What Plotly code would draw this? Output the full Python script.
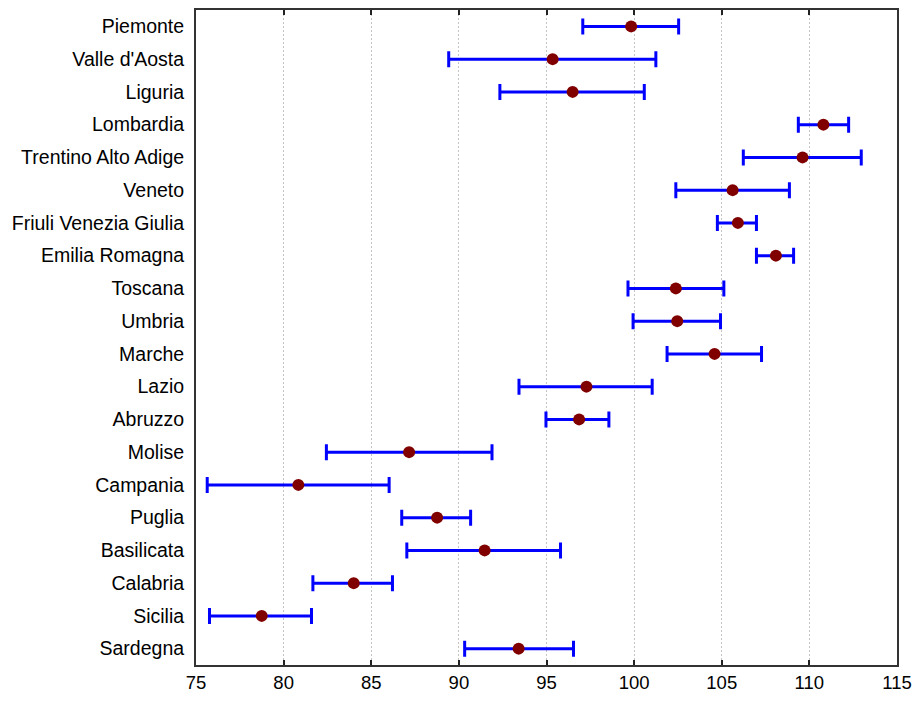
import plotly.graph_objects as go

regions = ["Piemonte", "Valle d'Aosta", "Liguria", "Lombardia", "Trentino Alto Adige",
           "Veneto", "Friuli Venezia Giulia", "Emilia Romagna", "Toscana", "Umbria",
           "Marche", "Lazio", "Abruzzo", "Molise", "Campania", "Puglia", "Basilicata",
           "Calabria", "Sicilia", "Sardegna"]
lower = [97.07, 89.42, 92.34, 109.37, 106.23, 102.38, 104.75, 106.98, 99.65, 99.94,
         101.88, 93.43, 94.97, 82.44, 75.64, 86.74, 87.03, 81.67, 75.77, 90.33]
mean = [99.83, 95.35, 96.49, 110.80, 109.61, 105.62, 105.92, 108.09, 102.38, 102.46,
        104.59, 97.28, 96.86, 87.16, 80.84, 88.76, 91.47, 84.00, 78.75, 93.41]
upper = [102.54, 101.24, 100.58, 112.24, 112.96, 108.86, 106.98, 109.10, 105.12, 104.93,
         107.27, 101.03, 98.56, 91.89, 86.02, 90.67, 95.80, 86.21, 81.59, 96.54]
x_ticks = [75, 80, 85, 90, 95, 100, 105, 110, 115]

plus = [u - m for u, m in zip(upper, mean)]
minus = [m - l for m, l in zip(mean, lower)]

fig = go.Figure()
fig.add_trace(go.Scatter(
    x=mean, y=regions, mode="markers",
    marker=dict(color="#800000", size=12),
    error_x=dict(type="data", symmetric=False, array=plus, arrayminus=minus,
                 color="#0000FF", thickness=3, width=8),
    showlegend=False,
))

yfont = dict(family="Liberation Sans, Arial, sans-serif", size=19.5, color="black")
xfont = dict(family="Liberation Sans, Arial, sans-serif", size=18.5, color="black")
fig.update_layout(
    width=913, height=693,
    margin=dict(l=188, r=24, t=0, b=36),
    plot_bgcolor="white", paper_bgcolor="white",
    font=yfont,
    xaxis=dict(range=[75, 115], tickvals=x_ticks, ticktext=[str(v) for v in x_ticks],
               showgrid=True, gridcolor="#c4c4c4", griddash="2px,2px", gridwidth=1,
               showline=True, linecolor="#333", linewidth=2, mirror="ticks",
               ticks="inside", ticklen=5, tickcolor="#222", tickwidth=2,
               zeroline=False, tickfont=xfont),
    yaxis=dict(type="category", categoryorder="array", categoryarray=regions,
               range=[19.5, -0.5], autorange=False,
               showgrid=False, showline=True, linecolor="#333", linewidth=2, mirror=True,
               ticks="", ticklabelstandoff=6, tickfont=yfont, zeroline=False),
)
fig.write_html("out.html")
